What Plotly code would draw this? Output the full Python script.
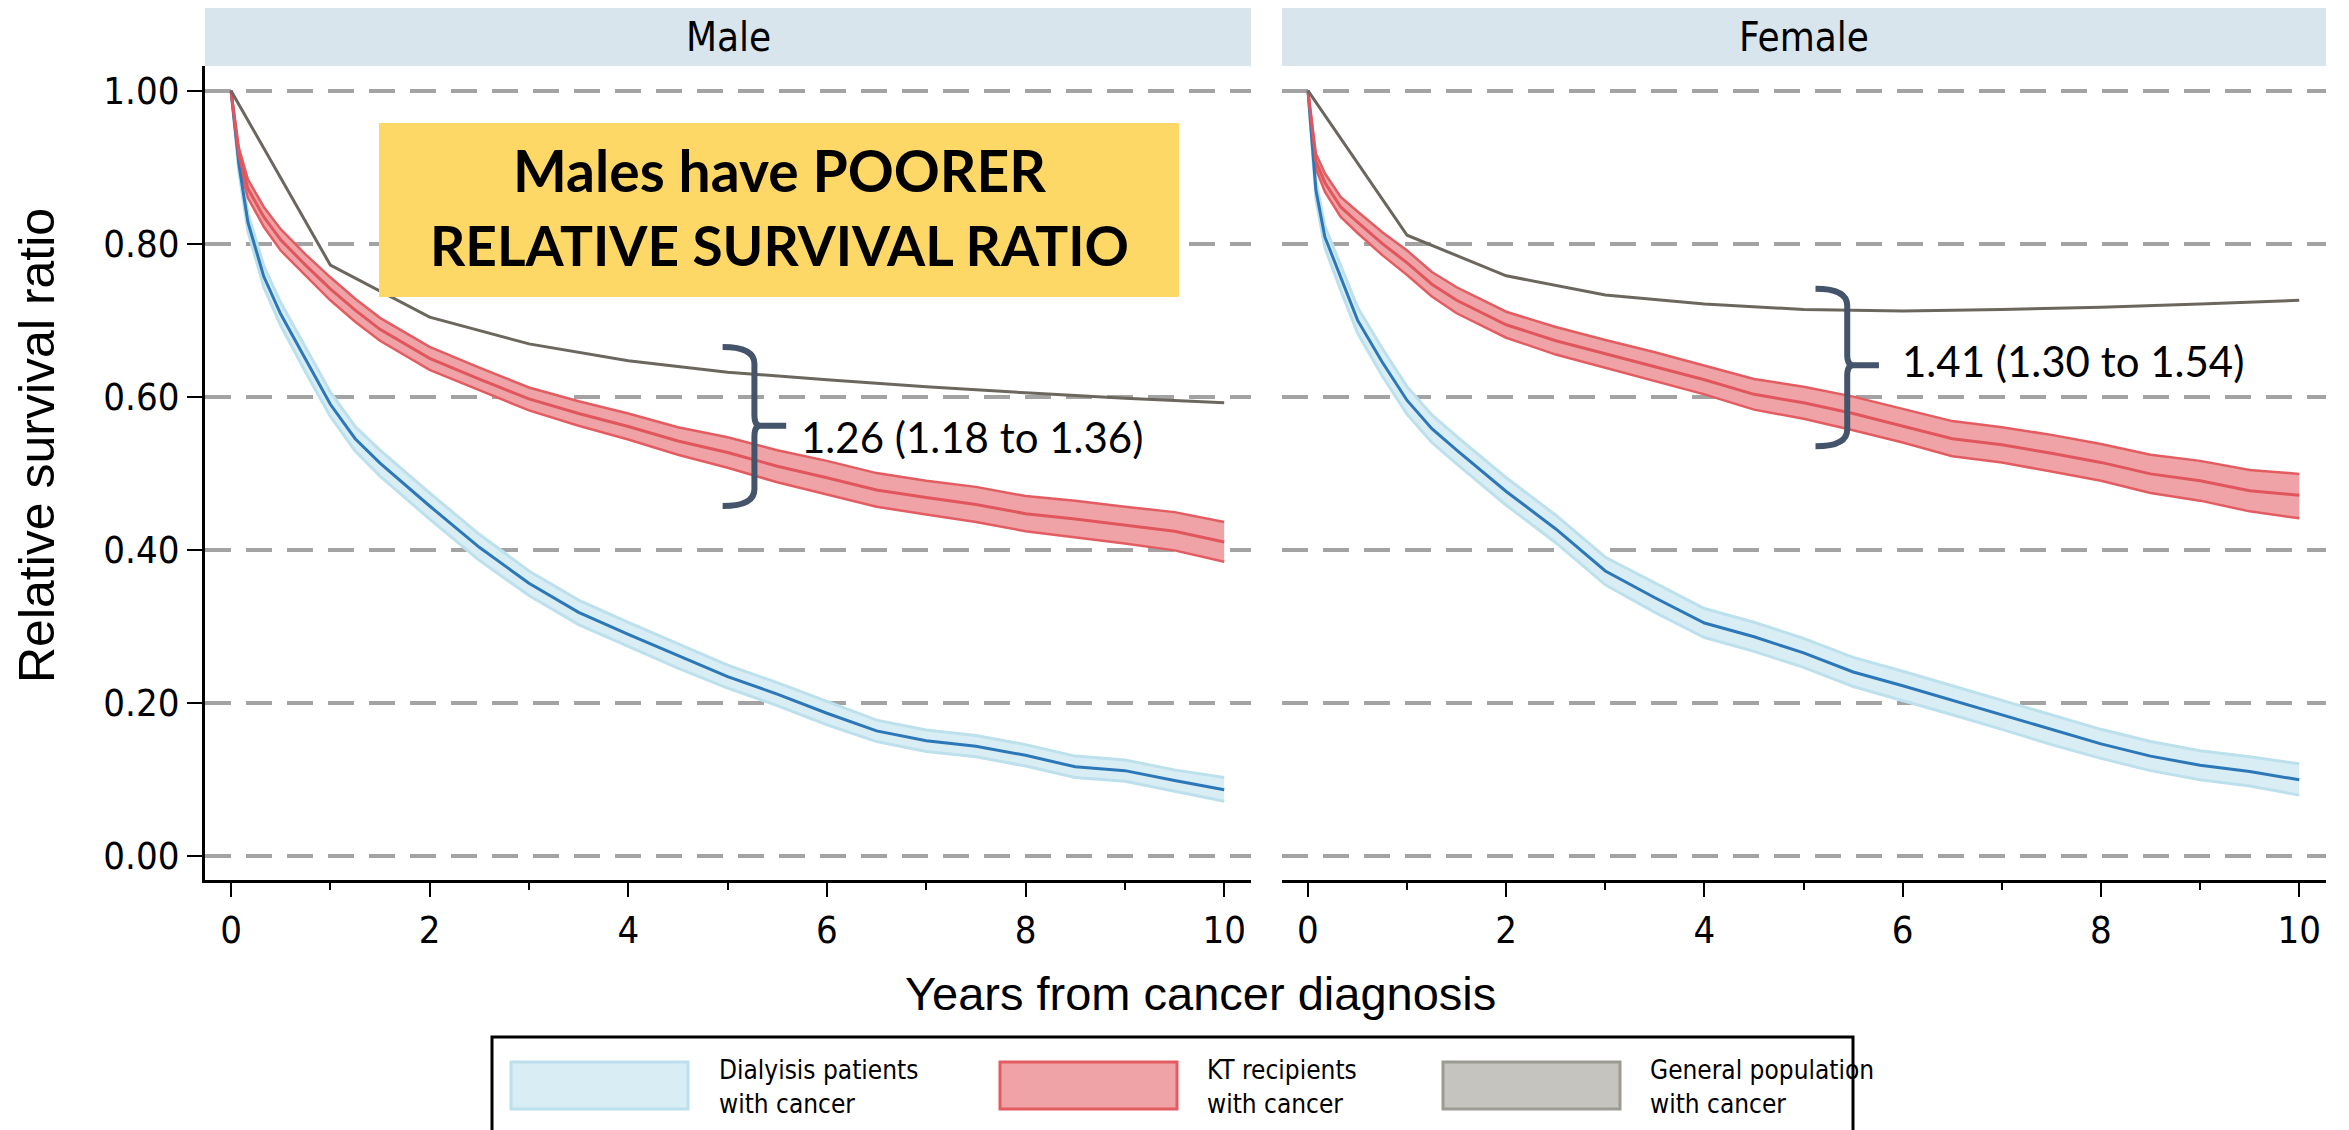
import plotly.graph_objects as go

# ---------------- data ----------------
years = [0, 0.08, 0.17, 0.33, 0.5, 0.75, 1, 1.25, 1.5, 2, 2.5, 3, 3.5, 4, 4.5,
         5, 5.5, 6, 6.5, 7, 7.5, 8, 8.5, 9, 9.5, 10]
gp_years = [0, 1, 2, 3, 4, 5, 6, 7, 8, 9, 10]

male_dial = [1.0, 0.903, 0.828, 0.757, 0.708, 0.648, 0.590, 0.545, 0.513, 0.457, 0.403, 0.356, 0.318,
             0.289, 0.261, 0.234, 0.211, 0.186, 0.163, 0.150, 0.143, 0.131, 0.116, 0.111, 0.098, 0.086]
male_dial_hi = [1.0, 0.913, 0.840, 0.771, 0.723, 0.664, 0.606, 0.561, 0.530, 0.474, 0.420, 0.372, 0.334,
                0.305, 0.277, 0.249, 0.226, 0.201, 0.177, 0.164, 0.157, 0.145, 0.130, 0.125, 0.112, 0.102]
male_dial_lo = [1.0, 0.893, 0.816, 0.743, 0.693, 0.632, 0.574, 0.529, 0.496, 0.440, 0.386, 0.340, 0.302,
                0.273, 0.245, 0.219, 0.196, 0.171, 0.149, 0.136, 0.129, 0.117, 0.102, 0.097, 0.084, 0.071]

male_kt = [1.0, 0.915, 0.872, 0.835, 0.805, 0.772, 0.741, 0.713, 0.688, 0.650, 0.623, 0.597, 0.578,
           0.561, 0.542, 0.527, 0.509, 0.494, 0.478, 0.468, 0.459, 0.447, 0.440, 0.432, 0.424, 0.410]
male_kt_hi = [1.0, 0.925, 0.884, 0.848, 0.819, 0.786, 0.756, 0.728, 0.703, 0.665, 0.638, 0.612, 0.594,
              0.578, 0.560, 0.547, 0.530, 0.516, 0.500, 0.490, 0.482, 0.470, 0.464, 0.456, 0.449, 0.436]
male_kt_lo = [1.0, 0.905, 0.860, 0.822, 0.791, 0.758, 0.726, 0.698, 0.673, 0.635, 0.608, 0.582, 0.562,
              0.544, 0.524, 0.507, 0.488, 0.472, 0.456, 0.446, 0.436, 0.424, 0.416, 0.408, 0.399, 0.384]

male_gp = [1.0, 0.772, 0.704, 0.669, 0.647, 0.632, 0.622, 0.613, 0.605, 0.598, 0.592]

female_dial = [1.0, 0.870, 0.809, 0.755, 0.700, 0.645, 0.595, 0.558, 0.530, 0.476, 0.427, 0.372, 0.337,
               0.304, 0.286, 0.265, 0.240, 0.222, 0.203, 0.184, 0.164, 0.146, 0.130, 0.118, 0.110, 0.099]
female_dial_hi = [1.0, 0.882, 0.823, 0.771, 0.717, 0.663, 0.613, 0.576, 0.548, 0.494, 0.445, 0.390, 0.356,
                  0.323, 0.305, 0.284, 0.259, 0.241, 0.222, 0.203, 0.183, 0.165, 0.149, 0.137, 0.129, 0.120]
female_dial_lo = [1.0, 0.858, 0.795, 0.739, 0.683, 0.627, 0.577, 0.540, 0.512, 0.458, 0.409, 0.354, 0.318,
                  0.285, 0.267, 0.246, 0.221, 0.203, 0.184, 0.165, 0.145, 0.127, 0.111, 0.099, 0.091, 0.079]

female_kt = [1.0, 0.908, 0.880, 0.848, 0.828, 0.800, 0.775, 0.747, 0.726, 0.694, 0.673, 0.656, 0.639,
             0.622, 0.603, 0.592, 0.578, 0.562, 0.545, 0.537, 0.526, 0.514, 0.499, 0.490, 0.477, 0.471]
female_kt_hi = [1.0, 0.918, 0.892, 0.861, 0.842, 0.815, 0.791, 0.763, 0.743, 0.711, 0.691, 0.674, 0.658,
                0.641, 0.623, 0.613, 0.600, 0.584, 0.568, 0.560, 0.550, 0.538, 0.524, 0.516, 0.504, 0.499]
female_kt_lo = [1.0, 0.898, 0.868, 0.835, 0.814, 0.785, 0.759, 0.731, 0.709, 0.677, 0.655, 0.638, 0.620,
                0.603, 0.583, 0.571, 0.556, 0.540, 0.522, 0.514, 0.502, 0.490, 0.474, 0.464, 0.450, 0.441]

female_gp = [1.0, 0.811, 0.758, 0.733, 0.721, 0.714, 0.712, 0.714, 0.717, 0.721, 0.726]

x_ticks = [0, 2, 4, 6, 8, 10]
y_ticks = [0.0, 0.2, 0.4, 0.6, 0.8, 1.0]
panel_titles = ["Male", "Female"]
legend_labels = [("Dialyisis patients", "with cancer"),
                 ("KT recipients", "with cancer"),
                 ("General population", "with cancer")]
callout_lines = ["Males have POORER", "RELATIVE SURVIVAL RATIO"]
ratio_labels = ["1.26 (1.18 to 1.36)", "1.41 (1.30 to 1.54)"]
x_title = "Years from cancer diagnosis"
y_title = "Relative survival ratio"

# ---------------- styling ----------------
OFF = 8                      # page body margin of the html page
W, H = 2349 - OFF, 1130 - OFF
ARIAL = "Liberation Sans, Arial, sans-serif"
NARROW = "Liberation Sans Narrow, Arial Narrow, DejaVu Sans Condensed, Liberation Sans, sans-serif"
CALIBRI = "Lato, Carlito, Calibri, sans-serif"

DIAL_LINE = "#2c77b8"
DIAL_EDGE = "#bde0ed"
DIAL_FILL = "#d9edf4"
KT_LINE = "#e0565c"
KT_EDGE = "#e35c61"
KT_FILL = "#efa3a6"
GP_LINE = "#6c675e"
GP_FILL = "#c5c4bf"
GP_EDGE = "#9c9b93"
BRACE = "#44546a"


def px(x):
    return (x - OFF) / W


def py(y):
    return 1 - (y - OFF) / H


fig = go.Figure()


def add_panel(xa, ya, dial, dlo, dhi, kt, klo, khi, gp):
    common = dict(xaxis=xa, yaxis=ya, showlegend=False, hoverinfo="skip", mode="lines")
    fig.add_trace(go.Scatter(x=years, y=dhi, line=dict(color=DIAL_EDGE, width=3), **common))
    fig.add_trace(go.Scatter(x=years, y=dlo, line=dict(color=DIAL_EDGE, width=3),
                             fill="tonexty", fillcolor=DIAL_FILL, **common))
    fig.add_trace(go.Scatter(x=years, y=khi, line=dict(color=KT_EDGE, width=2.5), **common))
    fig.add_trace(go.Scatter(x=years, y=klo, line=dict(color=KT_EDGE, width=2.5),
                             fill="tonexty", fillcolor=KT_FILL, **common))
    fig.add_trace(go.Scatter(x=years, y=dial, line=dict(color=DIAL_LINE, width=3), **common))
    fig.add_trace(go.Scatter(x=years, y=kt, line=dict(color=KT_LINE, width=3), **common))
    fig.add_trace(go.Scatter(x=gp_years, y=gp, line=dict(color=GP_LINE, width=3), **common))


add_panel("x", "y", male_dial, male_dial_lo, male_dial_hi, male_kt, male_kt_lo, male_kt_hi, male_gp)
add_panel("x2", "y2", female_dial, female_dial_lo, female_dial_hi,
          female_kt, female_kt_lo, female_kt_hi, female_gp)

XR = [-0.262, 10.27]
YR = [-0.032, 1.0323]
ydom = [py(880), py(66)]

xaxis_common = dict(
    range=XR, showgrid=False, zeroline=False, showline=True, linecolor="black", linewidth=3,
    ticks="outside", ticklen=14, tickwidth=2, tickcolor="black",
    tickvals=x_ticks, ticktext=[str(v) for v in x_ticks],
    tickfont=dict(family=NARROW, size=38, color="black"), ticklabelstandoff=0,
    minor=dict(dtick=1, tick0=0, ticks="outside", ticklen=7, tickwidth=2, tickcolor="black", showgrid=False),
    fixedrange=True,
)
yaxis_common = dict(
    range=YR, domain=ydom, tickvals=y_ticks, showgrid=True, gridcolor="#a3a3a3", gridwidth=4,
    griddash="26px,15px", zeroline=False, fixedrange=True,
)

fig.update_layout(
    width=W, height=H, margin=dict(l=0, r=0, t=0, b=0),
    paper_bgcolor="white", plot_bgcolor="white", showlegend=False,
    font=dict(family=ARIAL, color="black"),
    xaxis=dict(domain=[px(205), px(1251)], anchor="y", **xaxis_common),
    xaxis2=dict(domain=[px(1282), px(2326)], anchor="y2", **xaxis_common),
    yaxis=dict(anchor="x", showline=True, linecolor="black", linewidth=3,
               ticks="outside", ticklen=15, tickwidth=2, tickcolor="black",
               ticktext=[f"{v:.2f}" for v in y_ticks],
               tickfont=dict(family=NARROW, size=38, color="black"), **yaxis_common),
    yaxis2=dict(anchor="x2", showline=False, ticks="", showticklabels=False, **yaxis_common),
)

shapes = []
annotations = []

# facet strips
for (x0, x1), title in zip([(205, 1251), (1282, 2326)], panel_titles):
    shapes.append(dict(type="rect", xref="paper", yref="paper", x0=px(x0), x1=px(x1),
                       y0=py(66), y1=py(7), fillcolor="#d9e5ec", line=dict(width=0), layer="below"))
    annotations.append(dict(text=title, xref="paper", yref="paper", x=px((x0 + x1) / 2), y=py(37),
                            xanchor="center", yanchor="middle", showarrow=False,
                            font=dict(family=NARROW, size=40, color="black")))

# axis titles
annotations.append(dict(text=x_title, xref="paper", yref="paper", x=px(1200), y=py(993),
                        xanchor="center", yanchor="middle", showarrow=False,
                        font=dict(family=ARIAL, size=47, color="black")))
annotations.append(dict(text=y_title, xref="paper", yref="paper", x=px(37), y=py(446),
                        xanchor="center", yanchor="middle", showarrow=False, textangle=-90,
                        font=dict(family=ARIAL, size=50, color="black")))

# callout box
shapes.append(dict(type="rect", xref="paper", yref="paper", x0=px(379), x1=px(1179),
                   y0=py(297), y1=py(123), fillcolor="#fdd866", line=dict(width=0), layer="above"))
for line, yc, fs in zip(callout_lines, [170, 245], [57, 55]):
    annotations.append(dict(text=f"<b>{line}</b>", xref="paper", yref="paper", x=px(779), y=py(yc),
                            xanchor="center", yanchor="middle", showarrow=False,
                            font=dict(family=CALIBRI, size=fs, color="black")))


# braces (data units of each panel)
def brace_path(x_arm, x_bar, x_tip, y_top, y_mid, y_bot, ry=0.022, rm=0.014, nub=0.06):
    return (f"M {x_arm},{y_top} Q {x_bar},{y_top} {x_bar},{y_top - ry} "
            f"L {x_bar},{y_mid + rm} Q {x_bar},{y_mid} {x_bar + nub},{y_mid} L {x_tip},{y_mid} "
            f"M {x_bar + nub},{y_mid} Q {x_bar},{y_mid} {x_bar},{y_mid - rm} "
            f"L {x_bar},{y_bot + ry} Q {x_bar},{y_bot} {x_arm},{y_bot}")


brace_specs = [
    dict(xref="x", yref="y", arm=4.95, bar=5.27, tip=5.59, top=0.665, mid=0.562, bot=0.457,
         tx=5.72, ty=0.547, label=ratio_labels[0]),
    dict(xref="x2", yref="y2", arm=5.12, bar=5.44, tip=5.76, top=0.741, mid=0.641, bot=0.535,
         tx=5.97, ty=0.647, label=ratio_labels[1]),
]
for b in brace_specs:
    shapes.append(dict(type="path", xref=b["xref"], yref=b["yref"],
                       path=brace_path(b["arm"], b["bar"], b["tip"], b["top"], b["mid"], b["bot"]),
                       line=dict(color=BRACE, width=6), layer="above"))
    annotations.append(dict(text=b["label"], xref=b["xref"], yref=b["yref"], x=b["tx"], y=b["ty"],
                            xanchor="left", yanchor="middle", showarrow=False,
                            font=dict(family=CALIBRI, size=42, color="black")))

# legend
shapes.append(dict(type="rect", xref="paper", yref="paper", x0=px(492), x1=px(1853),
                   y0=py(1145), y1=py(1037), line=dict(color="black", width=3), fillcolor="white"))
legend_style = [(DIAL_FILL, DIAL_EDGE), (KT_FILL, KT_EDGE), (GP_FILL, GP_EDGE)]
for (fill, edge), sx, tx, (l1, l2) in zip(legend_style, [511, 1000, 1443], [717, 1205, 1648], legend_labels):
    shapes.append(dict(type="rect", xref="paper", yref="paper", x0=px(sx), x1=px(sx + 177),
                       y0=py(1109), y1=py(1062), fillcolor=fill, line=dict(color=edge, width=3)))
    annotations.append(dict(text=f"{l1}<br>{l2}", xref="paper", yref="paper", x=px(tx), y=py(1087),
                            xanchor="left", yanchor="middle", align="left", showarrow=False,
                            font=dict(family=NARROW, size=26, color="black")))

fig.update_layout(shapes=shapes, annotations=annotations)
fig.write_html("out.html")
